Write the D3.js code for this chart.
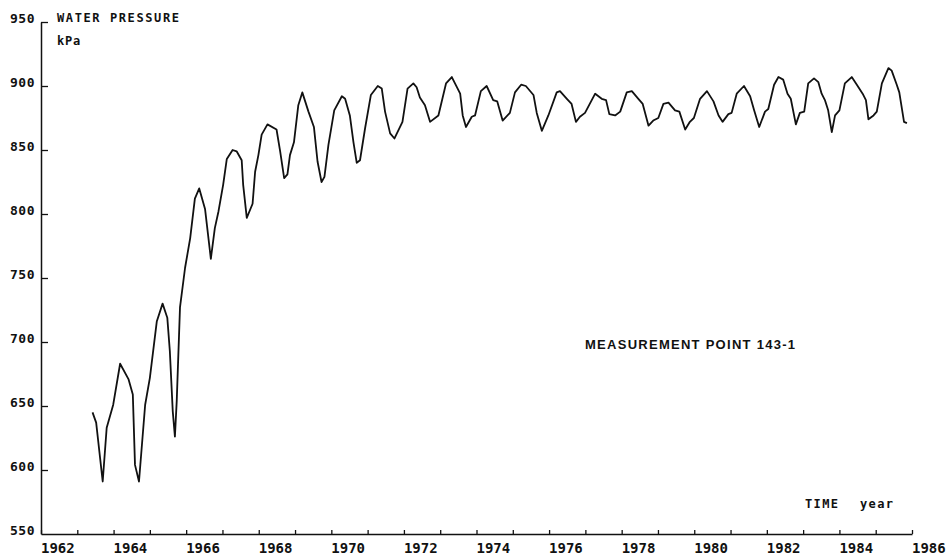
<!DOCTYPE html>
<html>
<head>
<meta charset="utf-8">
<script src="https://cdn.jsdelivr.net/npm/d3@7"></script>
<style>
  body { margin: 0; background: #fff; }
  svg text { font-family: "DejaVu Sans Mono", monospace; fill: #111; }
</style>
</head>
<body>
<svg id="chart" width="949" height="558"></svg>
<script>
const time = [
  1963.42, 1963.52, 1963.70, 1963.81, 1963.99, 1964.18, 1964.41, 1964.53, 1964.59, 1964.70,
  1964.87, 1965.00, 1965.19, 1965.35, 1965.48, 1965.55, 1965.63, 1965.69, 1965.74, 1965.83,
  1965.97, 1966.11, 1966.24, 1966.36, 1966.52, 1966.68, 1966.79, 1966.89, 1967.02, 1967.12,
  1967.28, 1967.39, 1967.53, 1967.57, 1967.67, 1967.83, 1967.90, 1967.99, 1968.08, 1968.24,
  1968.49, 1968.59, 1968.70, 1968.79, 1968.86, 1968.97, 1969.09, 1969.20, 1969.37, 1969.52,
  1969.62, 1969.73, 1969.81, 1969.92, 1970.08, 1970.29, 1970.38, 1970.51, 1970.61, 1970.70,
  1970.79, 1970.93, 1971.09, 1971.28, 1971.39, 1971.48, 1971.62, 1971.74, 1971.96, 1972.10,
  1972.26, 1972.35, 1972.44, 1972.58, 1972.72, 1972.95, 1973.16, 1973.32, 1973.55, 1973.62,
  1973.71, 1973.87, 1973.96, 1974.12, 1974.28, 1974.46, 1974.57, 1974.72, 1974.92, 1975.06,
  1975.23, 1975.36, 1975.57, 1975.66, 1975.80, 1975.98, 1976.21, 1976.30, 1976.49, 1976.62,
  1976.74, 1976.85, 1976.99, 1977.27, 1977.45, 1977.57, 1977.66, 1977.82, 1977.96, 1978.14,
  1978.28, 1978.46, 1978.58, 1978.74, 1978.87, 1979.01, 1979.15, 1979.29, 1979.47, 1979.59,
  1979.75, 1979.88, 1979.99, 1980.16, 1980.35, 1980.53, 1980.67, 1980.78, 1980.94, 1981.03,
  1981.17, 1981.37, 1981.54, 1981.65, 1981.79, 1981.95, 1982.04, 1982.20, 1982.32, 1982.45,
  1982.57, 1982.66, 1982.80, 1982.91, 1983.03, 1983.14, 1983.30, 1983.42, 1983.51, 1983.60,
  1983.69, 1983.79, 1983.88, 1984.00, 1984.15, 1984.34, 1984.48, 1984.64, 1984.73, 1984.80,
  1984.94, 1985.03, 1985.17, 1985.35, 1985.44, 1985.58, 1985.65, 1985.78, 1985.86
];
const pressure = [
  645, 637, 591, 633, 651, 683, 671, 659, 604, 591,
  651, 672, 716, 730, 719, 693, 646, 626, 654, 727,
  758, 781, 812, 820, 804, 765, 789, 802, 823, 843,
  850, 849, 842, 823, 797, 808, 833, 846, 862, 870,
  866, 849, 828, 831, 846, 856, 885, 895, 880, 868,
  841, 825, 829, 854, 881, 892, 890, 877, 856, 840,
  842, 867, 893, 900, 898, 880, 863, 859, 872, 898,
  902, 899, 891, 885, 872, 877, 902, 907, 894, 877,
  868, 876, 877, 896, 900, 889, 888, 873, 879, 895,
  901, 900, 893, 879, 865, 877, 895, 896, 890, 886,
  872, 876, 879, 894, 890, 889, 878, 877, 880, 895,
  896, 890, 886, 869, 873, 875, 886, 887, 881, 880,
  866, 872, 875, 890, 896, 888, 877, 872, 878, 879,
  894, 900, 892, 881, 868, 880, 882, 901, 907, 905,
  894, 890, 870, 879, 880, 902, 906, 903, 894, 889,
  881, 864, 877, 881, 902, 907, 901, 894, 889, 874,
  877, 880, 902, 914, 912, 901, 895, 872, 871
];

const yTickValues = [600, 650, 700, 750, 800, 850, 900, 950];
const yLabels = [550, 600, 650, 700, 750, 800, 850, 900, 950];
const yearTicks = d3.range(1962, 1987);
const yearLabels = [1962, 1964, 1966, 1968, 1970, 1972, 1974, 1976, 1978, 1980, 1982, 1984, 1986];

const svg = d3.select('#chart');
svg.append('rect').attr('width', 949).attr('height', 558).attr('fill', '#fff');

const x = d3.scaleLinear().domain([1962, 1986]).range([41, 912]);
const y = d3.scaleLinear().domain([550, 950]).range([534, 22]);

// y axis, ticks pointing inwards
const yAxis = svg.append('g')
  .attr('transform', 'translate(41,0)')
  .call(d3.axisRight(y).tickValues(yTickValues).tickSize(7).tickSizeOuter(0).tickFormat(''));
yAxis.select('.domain').attr('stroke', '#111').attr('stroke-width', 1.5);
yAxis.selectAll('.tick line').attr('stroke', '#111').attr('stroke-width', 1.3);

svg.append('g').selectAll('text')
  .data(yLabels)
  .join('text')
  .attr('x', 35)
  .attr('y', d => y(d) + 1)
  .attr('text-anchor', 'end')
  .attr('font-size', 13)
  .attr('font-weight', 'bold')
  .attr('letter-spacing', 0.5)
  .text(d => d);

// x axis, yearly ticks pointing up
const xAxis = svg.append('g')
  .attr('transform', 'translate(0,534)')
  .call(d3.axisTop(x).tickValues(yearTicks).tickSize(4).tickSizeOuter(0).tickFormat(''));
xAxis.select('.domain').attr('stroke', '#111').attr('stroke-width', 1.3);
xAxis.selectAll('.tick line').attr('stroke', '#111').attr('stroke-width', 1.3);

svg.append('g').selectAll('text')
  .data(yearLabels)
  .join('text')
  .attr('x', d => x(d))
  .attr('y', 553)
  .attr('font-size', 14)
  .attr('font-weight', 'bold')
  .text(d => d);

// the series
const line = d3.line()
  .x((d, i) => x(time[i]))
  .y(d => y(d));

svg.append('path')
  .datum(pressure)
  .attr('d', line)
  .attr('fill', 'none')
  .attr('stroke', '#111')
  .attr('stroke-width', 1.8)
  .attr('stroke-linejoin', 'round');

// labels
svg.append('text').attr('x', 57).attr('y', 22)
  .attr('font-size', 12).attr('font-weight', 'bold')
  .attr('letter-spacing', 1.6).text('WATER PRESSURE');
svg.append('text').attr('x', 57).attr('y', 45)
  .attr('font-size', 12).attr('font-weight', 'bold')
  .attr('letter-spacing', 0.8).text('kPa');

svg.append('text').attr('x', 805).attr('y', 508)
  .attr('font-size', 12).attr('font-weight', 'bold')
  .attr('letter-spacing', 1.4).text('TIME');
svg.append('text').attr('x', 860).attr('y', 508)
  .attr('font-size', 12).attr('font-weight', 'bold')
  .attr('letter-spacing', 1.4).text('year');

svg.append('text').attr('x', 585).attr('y', 349)
  .style('font-family', '"Liberation Sans", Arial, sans-serif')
  .attr('font-size', 13).attr('font-weight', 'bold')
  .attr('textLength', 210).attr('lengthAdjust', 'spacing')
  .text('MEASUREMENT POINT 143-1');
</script>
</body>
</html>
